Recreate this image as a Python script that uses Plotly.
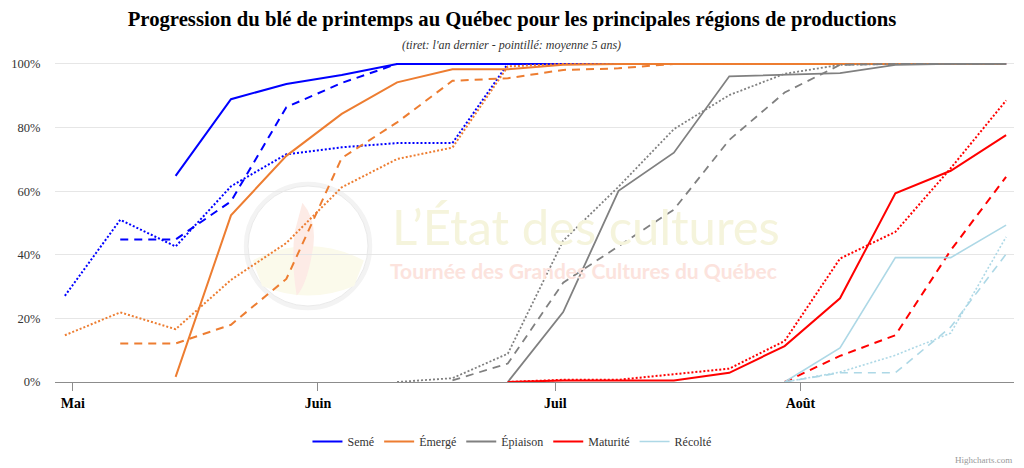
import plotly.graph_objects as go

# ---------------- DATA ----------------
dates = ["2023-04-30", "2023-05-07", "2023-05-14", "2023-05-21", "2023-05-28",
         "2023-06-04", "2023-06-11", "2023-06-18", "2023-06-25", "2023-07-02",
         "2023-07-09", "2023-07-16", "2023-07-23", "2023-07-30", "2023-08-06",
         "2023-08-13", "2023-08-20", "2023-08-27"]

N = None
# Semé
seme_cur = [N, N, 64.8, 88.9, 93.7, 96.5, 100, 100, 100, 100, 100, 100, 100, 100, 100, 100, 100, 100]
seme_last = [N, 44.8, 44.8, 56.8, 86.4, 94.0, 100, 100, 100, 100, 100, 100, 100, 100, 100, 100, 100, 100]
seme_avg = [27.1, 51.0, 42.6, 61.5, 71.6, 73.8, 75.1, 75.1, 100, 100, 100, 100, 100, 100, 100, 100, 100, 100]
# Émergé
emerge_cur = [N, N, 1.6, 52.4, 71.1, 84.3, 94.2, 98.3, 98.3, 99.7, 100, 100, 100, 100, 100, 100, 100, 100]
emerge_last = [N, 12.1, 12.1, 18.0, 32.4, 70.4, 81.6, 94.7, 95.5, 98.1, 98.6, 100, 100, 100, 100, 100, 100, 100]
emerge_avg = [14.7, 21.9, 16.6, 32.1, 43.7, 61.2, 70.1, 73.7, 99.2, 100, 100, 100, 100, 100, 100, 100, 100, 100]
# Épiaison
epi_cur = [N, N, N, N, N, N, N, N, 0, 22.0, 60.1, 72.1, 96.1, 96.5, 97.1, 99.7, 100, 100]
epi_last = [N, N, N, N, N, N, N, 0.5, 5.8, 31.2, 42.7, 54.2, 76.1, 91.0, 99.7, 100, 100, 100]
epi_avg = [N, N, N, N, N, N, 0, 1.2, 8.9, 44.4, 61.4, 79.5, 90.2, 96.9, 99.7, 100, 100, 100]
# Maturité
mat_cur = [N, N, N, N, N, N, N, N, 0, 0.5, 0.5, 0.5, 2.9, 11.3, 26.3, 59.3, 66.4, 77.6]
mat_last = [N, N, N, N, N, N, N, N, N, N, N, N, N, 0, 8.2, 14.7, 41.4, 64.5]
mat_avg = [N, N, N, N, N, N, N, N, 0, 0.7, 0.7, 2.4, 4.2, 12.9, 38.8, 47.2, 67.2, 88.5]
# Récolté
rec_cur = [N, N, N, N, N, N, N, N, N, N, N, N, N, 0, 10.7, 39.1, 39.1, 49.3]
rec_last = [N, N, N, N, N, N, N, N, N, N, N, N, N, 0, 2.9, 2.9, 17.3, 40.2]
rec_avg = [N, N, N, N, N, N, N, N, N, N, N, N, N, 0, 3.1, 8.4, 15.4, 45.6]

names = ["Semé", "Émergé", "Épiaison", "Maturité", "Récolté"]
colors = ["#0000ff", "#ED7D31", "#808080", "#ff0000", "#add8e6"]
widths = [2, 2, 1.8, 2, 1.6]
series = [
    (seme_cur, seme_last, seme_avg),
    (emerge_cur, emerge_last, emerge_avg),
    (epi_cur, epi_last, epi_avg),
    (mat_cur, mat_last, mat_avg),
    (rec_cur, rec_last, rec_avg),
]

month_ticks = ["2023-05-01", "2023-06-01", "2023-07-01", "2023-08-01"]
month_labels = ["Mai", "Juin", "Juil", "Août"]
y_ticks = [0, 20, 40, 60, 80, 100]
y_labels = ["0%", "20%", "40%", "60%", "80%", "100%"]

title_text = "Progression du blé de printemps au Québec pour les principales régions de productions"
subtitle_text = "(tiret: l'an dernier - pointillé: moyenne 5 ans)"

SERIF = "Liberation Serif, Times New Roman, serif"

# plot area in pixels: x 55..1014, y 62..382
PT, PB = 62, 382


def py(p):
    return (PB - p) / (PB - PT)


# ---------------- FIGURE ----------------
fig = go.Figure()
for name, col, w, (cur, last, avg) in zip(names, colors, widths, series):
    fig.add_trace(go.Scatter(x=dates, y=cur, mode="lines", name=name, legendgroup=name,
                             line=dict(color=col, width=w), showlegend=True))
    fig.add_trace(go.Scatter(x=dates, y=last, mode="lines", name=name + " (an dernier)",
                             legendgroup=name, showlegend=False,
                             line=dict(color=col, width=w, dash="8px,6px")))
    fig.add_trace(go.Scatter(x=dates, y=avg, mode="lines", name=name + " (moyenne 5 ans)",
                             legendgroup=name, showlegend=False,
                             line=dict(color=col, width=w, dash="2px,2px")))

# watermark (pale logo circle + texts)
fig.add_shape(type="circle", xref="paper", yref="paper",
              x0=0.1995, x1=0.3282, y0=0.232, y1=0.618, layer="below",
              line=dict(color="#f3f3f3", width=5), fillcolor="white")
fig.add_shape(type="circle", xref="paper", yref="paper",
              x0=0.2013, x1=0.3264, y0=0.2375, y1=0.6125, layer="below",
              line=dict(color="#eaeaea", width=1), fillcolor="white")
fig.add_shape(type="path", xref="paper", yref="paper", layer="below",
              path="M 0.206,0.38 Q 0.264,0.47 0.322,0.38 L 0.312,0.30 Q 0.264,0.24 0.216,0.30 Z",
              fillcolor="#fbfaeb", line=dict(width=0))
fig.add_shape(type="path", xref="paper", yref="paper", layer="below",
              path="M 0.258,0.56 Q 0.275,0.50 0.268,0.40 Q 0.262,0.30 0.252,0.27 Q 0.246,0.38 0.250,0.47 Z",
              fillcolor="#fdebe6", line=dict(width=0))

annotations = [
    dict(text="L’État des cultures", xref="paper", yref="paper", x=0.5537, y=py(255.5),
         xanchor="center", yanchor="bottom", showarrow=False, borderpad=0,
         font=dict(family="Lato", size=49, color="#f5f4dc")),
    dict(text="Tournée des Grandes Cultures du Québec", xref="paper", yref="paper",
         x=0.5506, y=py(256.5), xanchor="center", yanchor="top", showarrow=False, borderpad=0,
         font=dict(family="Lato", size=21, color="#fce3dd", weight="bold")),
    dict(text=subtitle_text, xref="paper", yref="paper", x=0.4765, y=py(45),
         xanchor="center", yanchor="middle", showarrow=False,
         font=dict(family=SERIF, size=12, color="#333333", style="italic")),
    dict(text="Highcharts.com", xref="paper", yref="paper", x=1.0, y=py(460),
         xanchor="right", yanchor="middle", showarrow=False,
         font=dict(family=SERIF, size=9, color="#999999")),
]

fig.update_layout(
    width=1024, height=468, autosize=False,
    margin=dict(l=55, r=10, t=PT, b=468 - PB, autoexpand=False),
    paper_bgcolor="white", plot_bgcolor="white",
    title=dict(text=title_text, x=0.5, xref="container", xanchor="center",
               y=1 - 19 / 468, yref="container", yanchor="middle",
               font=dict(family=SERIF, size=20.7, color="#000000", weight="bold")),
    showlegend=True,
    legend=dict(orientation="h", x=0.4765, xref="paper", xanchor="center",
                y=py(441.5), yref="paper", yanchor="middle",
                font=dict(family=SERIF, size=12, color="#333333"),
                bgcolor="rgba(0,0,0,0)", itemwidth=30, tracegroupgap=0),
    annotations=annotations,
    hovermode="x",
)

fig.update_xaxes(
    type="date", range=["2023-04-28 18:00", "2023-08-28 00:00"],
    showgrid=False, zeroline=False,
    showline=True, linecolor="#8c8c8c", linewidth=1,
    ticks="outside", ticklen=8, tickcolor="#8c8c8c", tickwidth=1,
    tickmode="array", tickvals=month_ticks, ticktext=month_labels,
    tickfont=dict(family=SERIF, size=14, color="#000000", weight="bold"),
)
fig.update_yaxes(
    range=[0, 100.6], tickmode="array", tickvals=y_ticks, ticktext=y_labels,
    showgrid=True, gridcolor="#e6e6e6", gridwidth=1, zeroline=False,
    showline=False, ticks="outside", ticklen=11, tickcolor="rgba(0,0,0,0)",
    tickfont=dict(family=SERIF, size=12.5, color="#333333"),
)

fig.write_html("out.html", config={"displayModeBar": False},
               post_script="document.body.style.margin='0';document.body.style.padding='0';")
